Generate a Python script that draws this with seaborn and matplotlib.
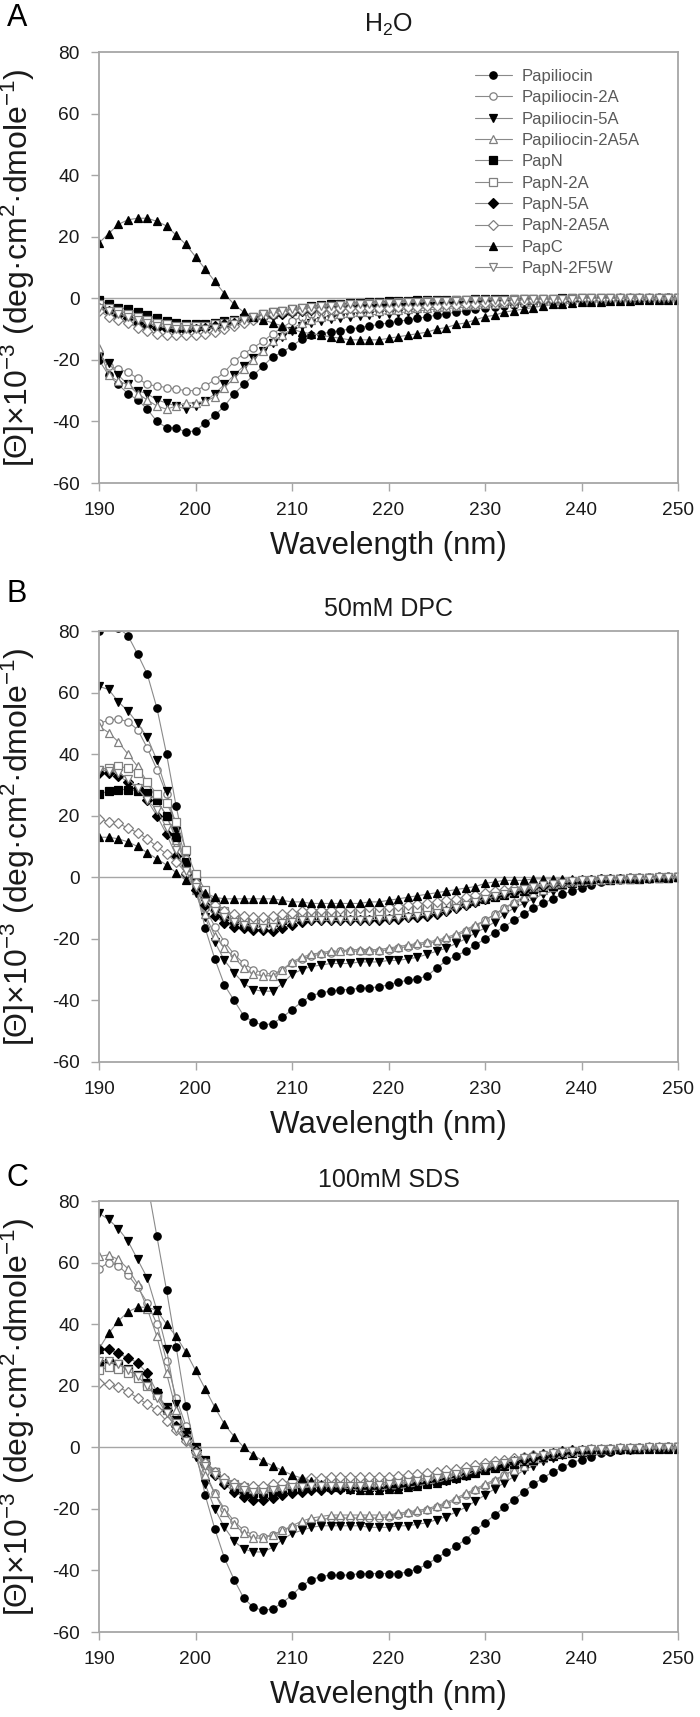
import numpy as np
import pandas as pd
import matplotlib
matplotlib.use("Agg")
import matplotlib.pyplot as plt
import seaborn as sns

# wavelength grid (nm), one reading per nm
wl = np.arange(190, 251)

names = ['Papiliocin', 'Papiliocin-2A', 'Papiliocin-5A', 'Papiliocin-2A5A', 'PapN',
         'PapN-2A', 'PapN-5A', 'PapN-2A5A', 'PapC', 'PapN-2F5W']
panel_titles = ['H$_2$O', '50mM DPC', '100mM SDS']
panel_letters = ['A', 'B', 'C']
x_ticks = [190, 200, 210, 220, 230, 240, 250]
y_ticks = [-60, -40, -20, 0, 20, 40, 60, 80]

# ---- panel A : water ----
a_pap = [-20, -25, -28, -31, -33, -36, -40, -42, -42, -43.5,
         -43, -40.5, -38, -35, -31, -28, -25, -22, -19, -17.5,
         -15.5, -13.3, -12, -11.5, -11, -10.5, -10, -9.5, -9, -8.5,
         -8, -7.5, -7, -6.5, -6, -5.5, -5, -4.5, -4, -3.5,
         -3, -2.7, -2.4, -2.1, -1.8, -1.5, -1.3, -1.1, -0.9, -0.7,
         -0.6, -0.5, -0.4, -0.3, -0.3, -0.2, -0.2, -0.1, -0.1, 0, 0]
a_pap2a = [-18, -22, -23, -24, -26, -28, -28.5, -29, -29.5, -30,
           -30, -28.5, -26.5, -24, -20.5, -18, -16, -14, -11.5, -9.5,
           -7.5, -6, -5, -4.5, -4, -3.5, -3.3, -3.1, -3, -2.8,
           -2.6, -2.4, -2.2, -2, -1.9, -1.8, -1.7, -1.6, -1.5, -1.4,
           -1.3, -1.2, -1.1, -1, -0.9, -0.8, -0.7, -0.6, -0.5, -0.4,
           -0.3, -0.3, -0.2, -0.2, -0.1, -0.1, 0, 0, 0, 0, 0]
a_pap5a = [-19, -21, -25, -28, -30, -31, -33, -34, -35, -36,
           -35, -33.5, -31, -28, -25, -22, -19.5, -17, -14.5, -12.5,
           -10.5, -9, -8, -7.3, -6.8, -6.4, -6, -5.7, -5.4, -5.2,
           -5, -4.7, -4.4, -4.1, -3.8, -3.5, -3.3, -3.1, -2.9, -2.7,
           -2.5, -2.3, -2.1, -1.9, -1.7, -1.5, -1.3, -1.1, -0.9, -0.8,
           -0.7, -0.6, -0.5, -0.4, -0.3, -0.2, -0.2, -0.1, -0.1, 0, 0]
a_pap2a5a = [-16, -25, -27, -28, -31, -33, -35, -36, -35, -34,
             -34, -33.5, -32, -29, -26, -23, -20, -17, -14, -12,
             -10, -8, -7, -6.2, -5.6, -5.1, -4.8, -4.5, -4.3, -4.1,
             -3.9, -3.7, -3.5, -3.3, -3.1, -2.9, -2.7, -2.5, -2.3, -2.1,
             -1.9, -1.7, -1.5, -1.4, -1.3, -1.1, -1, -0.9, -0.8, -0.7,
             -0.6, -0.5, -0.4, -0.3, -0.2, -0.2, -0.1, -0.1, 0, 0, 0]
a_papn = [-0.5, -2, -3, -3.5, -4.5, -5.5, -6.5, -7.5, -8, -8.5,
          -8.5, -8.5, -8, -7.5, -7, -6.5, -6, -5, -4.5, -4,
          -3.5, -3, -2.6, -2.3, -2, -1.8, -1.6, -1.4, -1.2, -1.1,
          -1, -0.9, -0.8, -0.7, -0.6, -0.5, -0.5, -0.4, -0.4, -0.3,
          -0.3, -0.3, -0.2, -0.2, -0.2, -0.1, -0.1, -0.1, 0, 0,
          0, 0, 0, 0, 0, 0, 0, 0, 0, 0, 0]
a_papn2a = [-2, -3, -4, -5, -6, -7, -8, -8.5, -9, -9,
            -9, -9, -8.5, -8, -7.5, -7, -6.5, -5.5, -5, -4.5,
            -4, -3.5, -3, -2.7, -2.4, -2.2, -2, -1.8, -1.6, -1.5,
            -1.4, -1.3, -1.2, -1.1, -1, -0.9, -0.8, -0.7, -0.6, -0.5,
            -0.5, -0.4, -0.4, -0.3, -0.3, -0.2, -0.2, -0.1, -0.1, 0,
            0, 0, 0, 0, 0, 0, 0, 0, 0, 0, 0]
a_papn5a = [-3, -4, -5.5, -6.5, -8, -9, -9.5, -10, -10.5, -10.5,
            -10, -9.5, -9, -8.5, -8, -7.5, -6.5, -6, -5.5, -5,
            -4.5, -4.2, -3.9, -3.6, -3.3, -3, -2.8, -2.6, -2.4, -2.2,
            -2, -1.9, -1.8, -1.7, -1.6, -1.5, -1.4, -1.3, -1.2, -1.1,
            -1, -0.9, -0.8, -0.8, -0.7, -0.6, -0.6, -0.5, -0.5, -0.4,
            -0.4, -0.3, -0.3, -0.2, -0.2, -0.2, -0.1, -0.1, 0, 0, 0]
a_papn2a5a = [-4, -6, -7, -8, -9.5, -10.5, -11.5, -12, -12, -12,
              -12, -11.5, -11, -10, -9, -8, -7, -6, -5, -4.5,
              -4, -3.8, -3.6, -3.5, -3.4, -3.3, -3.2, -3.1, -3, -3,
              -3, -2.9, -2.8, -2.7, -2.6, -2.5, -2.3, -2.1, -1.9, -1.7,
              -1.5, -1.3, -1.1, -0.9, -0.8, -0.7, -0.6, -0.5, -0.4, -0.3,
              -0.2, -0.2, -0.1, -0.1, 0, 0, 0, 0, 0, 0, 0]
a_papc = [18, 21, 24, 25.5, 26, 26, 25, 23.5, 20.5, 17.5,
          13.5, 9.5, 5.5, 1.5, -2, -4.5, -6, -7, -8, -9,
          -10, -11, -11.5, -12, -12.5, -13, -13.5, -13.5, -13.5, -13.5,
          -13, -12.5, -12, -11.5, -11, -10, -9.5, -8.5, -8, -7,
          -6, -5.5, -4.5, -4, -3.5, -3, -2.5, -2, -1.8, -1.5,
          -1.3, -1.2, -1.1, -1, -0.9, -0.8, -0.7, -0.6, -0.6, -0.5, -0.5]
a_papn2f5w = [-3, -4, -5, -6, -7, -8, -9, -9.5, -10, -10,
              -10, -10, -9.5, -9, -8.5, -7, -6, -5, -4.5, -4,
              -3.5, -3.2, -2.9, -2.6, -2.4, -2.2, -2, -1.8, -1.7, -1.6,
              -1.5, -1.4, -1.3, -1.2, -1.1, -1, -0.9, -0.8, -0.7, -0.6,
              -0.5, -0.5, -0.4, -0.4, -0.3, -0.3, -0.2, -0.2, -0.1, -0.1,
              0, 0, 0, 0, 0, 0, 0, 0, 0, 0, 0]

# ---- panel B : 50 mM DPC ----
b_pap = [80, 82, 81, 78.5, 72.5, 66, 55, 40, 23, 8,
         -3, -16.5, -26.5, -35, -40, -45, -47, -48, -47.5, -45.5,
         -43, -40.5, -38.5, -37.5, -37, -36.5, -36.5, -36, -36, -35.5,
         -35, -34, -33.5, -33, -32, -29.5, -27, -25.5, -24, -22,
         -20, -18, -16, -14, -12, -10, -8.5, -7, -5.5, -4.5,
         -3.5, -2.5, -1.5, -1, -0.5, -0.5, -0.5, -0.3, -0.2, -0.1, 0]
b_pap2a = [50, 51, 51.5, 50.5, 48, 42, 35, 27, 17, 6,
           -3, -10, -16, -21, -25, -28, -30, -31, -31.5, -30,
           -28, -26.5, -25.5, -25, -24.5, -24, -24, -24, -24, -24,
           -23.5, -23, -22.5, -22, -21.5, -21, -20, -19, -17.5, -16,
           -14, -12, -10, -8.5, -7, -5.5, -4.5, -3.5, -2.5, -2,
           -1.5, -1.2, -1, -0.8, -0.6, -0.5, -0.4, -0.3, -0.2, -0.1, 0]
b_pap5a = [62, 61, 57, 54, 50, 45.5, 38, 28, 15, 4,
           -5, -13, -21, -27, -31, -34.5, -36.5, -37, -37, -34.5,
           -31.5, -30, -29, -28.5, -28, -28, -28, -27.5, -27.5, -27.5,
           -27, -27, -26.5, -26, -25, -24, -23, -21.5, -20, -18,
           -16.5, -14.5, -12, -10, -8.5, -7, -5.5, -4.5, -3.5, -2.5,
           -2, -1.5, -1, -0.8, -0.6, -0.5, -0.4, -0.3, -0.2, -0.1, 0]
b_pap2a5a = [49, 47, 44, 40, 36, 31, 25, 20, 12, 4,
             -4, -12, -19, -23, -26, -29.5, -31.5, -32, -32, -30,
             -27.5, -26, -25, -24.5, -24, -24, -23.5, -23.5, -23.5, -23.5,
             -23, -22.5, -22, -21.5, -21, -20.5, -19.5, -18.5, -17, -15.5,
             -14, -12, -10, -8, -6.5, -5, -4, -3, -2.5, -2,
             -1.5, -1.2, -1, -0.8, -0.6, -0.5, -0.4, -0.3, -0.2, -0.1, 0]
b_papn = [27, 28, 28.5, 28.5, 28, 27.5, 25, 20, 13, 5,
          -1, -6, -10, -12.5, -14, -14.5, -15, -15, -14.5, -14,
          -13, -12.5, -12, -12, -12, -12, -12, -12, -12, -11.8,
          -11.5, -11.3, -11, -10.7, -10.4, -10, -9.5, -9, -8.5, -7.8,
          -7, -6.3, -5.6, -5, -4.4, -3.8, -3.2, -2.7, -2.2, -1.8,
          -1.5, -1.2, -1, -0.8, -0.6, -0.5, -0.4, -0.3, -0.2, -0.1, 0]
b_papn2a = [35, 35.5, 36, 35.5, 34, 31, 27, 24, 18, 9,
            1, -4, -8, -11, -13, -13.5, -14, -14, -13.5, -13,
            -12.5, -12, -11.5, -11.5, -11.5, -11.5, -11.5, -11.5, -11.5, -11.3,
            -11, -10.8, -10.5, -10.2, -10, -9.5, -9, -8.5, -8, -7.3,
            -6.5, -5.8, -5.1, -4.5, -3.9, -3.3, -2.8, -2.3, -1.9, -1.5,
            -1.2, -1, -0.8, -0.6, -0.5, -0.4, -0.3, -0.2, -0.1, 0, 0]
b_papn5a = [34, 34, 33, 31, 29, 25, 20, 14, 7, 1,
            -4, -9, -12.5, -15, -16, -16.5, -17, -17, -17.5, -16.5,
            -15.5, -14.5, -14, -14, -14, -14, -14, -14, -14, -14,
            -13.5, -13.5, -13, -13, -12.5, -12, -11, -10, -9, -8,
            -7, -6.2, -5.4, -4.7, -4, -3.3, -2.7, -2.2, -1.8, -1.4,
            -1.1, -0.9, -0.7, -0.5, -0.4, -0.3, -0.2, -0.1, 0, 0, 0]
b_papn2a5a = [19, 18, 17.5, 16, 14.5, 12.5, 10, 7.5, 5, 1.5,
              -2, -6, -9, -11, -12, -12.5, -13, -13, -12.5, -12,
              -11.5, -11, -10.5, -10.5, -10.5, -10.3, -10.1, -10, -9.8, -9.6,
              -9.5, -9.2, -9, -8.7, -8.4, -8, -7.5, -7, -6.4, -5.7,
              -5, -4.5, -4, -3.5, -3.1, -2.7, -2.3, -1.9, -1.6, -1.3,
              -1, -0.8, -0.6, -0.5, -0.4, -0.3, -0.2, -0.1, 0, 0, 0]
b_papc = [13, 13, 12.5, 11.5, 10, 8, 6, 4, 1.5, -1,
          -3, -5, -6.5, -7, -7, -7, -7, -7, -7, -7.5,
          -8, -8, -8.5, -8.5, -8.5, -8.5, -8.5, -8.5, -8, -8,
          -7.5, -7, -6.5, -6, -5.5, -5, -4.5, -4, -3.5, -3,
          -2, -1.5, -1, -1, -1, -0.5, -0.5, -0.5, -0.5, -0.5,
          -0.5, -0.5, -0.3, -0.3, -0.2, -0.2, -0.1, -0.1, 0, 0, 0]
b_papn2f5w = [35, 34.5, 34, 32, 29, 25, 22, 16, 9, 2,
              -3, -8, -11, -13, -14.5, -15.5, -16, -16.5, -16, -15,
              -14.5, -14, -14, -14, -14, -14, -14, -14, -13.8, -13.6,
              -13.5, -13.2, -13, -12.6, -12.2, -11.5, -10.8, -10, -9, -8,
              -7, -6.2, -5.4, -4.6, -3.9, -3.2, -2.6, -2.1, -1.7, -1.3,
              -1, -0.8, -0.6, -0.5, -0.4, -0.3, -0.2, -0.1, 0, 0, 0]

# ---- panel C : 100 mM SDS ----
c_pap = [np.nan, np.nan, np.nan, np.nan, np.nan, 86, 68.5, 51, 32.5, 13.5,
         -1, -15.5, -26.5, -36, -43, -49, -52, -53, -52.5, -50.5,
         -48, -45, -43, -42, -41.5, -41.5, -41.5, -41, -41, -41,
         -41, -41, -40.5, -39.5, -38, -36, -34, -32, -30, -27,
         -24.5, -22, -19.5, -17, -14.5, -12, -10, -8, -6.5, -5,
         -4, -3, -2, -1.5, -1, -0.5, -0.3, -0.2, -0.1, 0, 0]
c_pap2a = [58, 60, 59, 56, 52, 47, 40, 28, 16, 7,
           0, -8, -15, -20, -24, -27, -28.5, -29, -28.5, -27,
           -26, -25, -24, -23.5, -23, -23, -23, -23, -23, -23,
           -22.5, -22, -21.5, -21, -20.5, -19.5, -18.5, -17, -15.5, -14,
           -12.5, -11, -9, -7.5, -6, -4.5, -3.5, -2.5, -2, -1.5,
           -1.2, -1, -0.8, -0.6, -0.5, -0.4, -0.3, -0.2, -0.1, 0, 0]
c_pap5a = [76, 74, 71, 67, 61, 55, 44.5, 32, 14, 5,
           -3, -12, -20, -26, -30.5, -33, -34, -34, -32.5, -30,
           -28, -27, -26, -25.5, -25.5, -25.5, -25.5, -25.5, -26, -26,
           -26, -25.5, -25.5, -25, -24.5, -23.5, -22.5, -21, -19.5, -17.5,
           -15.5, -13.5, -11.5, -9.5, -7.5, -6, -4.5, -3.5, -2.5, -2,
           -1.5, -1.2, -1, -0.8, -0.6, -0.5, -0.4, -0.3, -0.2, -0.1, 0]
c_pap2a5a = [62, 62.5, 61, 58, 53, 45, 36, 24, 12, 4,
             -2, -9, -15, -21, -25, -28, -29.5, -29.5, -28.5, -27,
             -25.5, -24, -23, -22.5, -22, -22, -22, -22, -22, -22,
             -22, -21.5, -21, -20.5, -20, -19, -18, -16.5, -15, -13.5,
             -12, -10.5, -9, -7.5, -6, -4.5, -3.5, -2.5, -2, -1.5,
             -1.2, -1, -0.8, -0.6, -0.5, -0.4, -0.3, -0.2, -0.1, 0, 0]
c_papn = [27, 27.5, 27, 25.5, 23.5, 21, 17.5, 13, 9, 4,
          0, -4, -8, -11, -13, -14.5, -15, -15, -14.5, -14,
          -13.5, -13, -13, -13, -13, -13, -13, -13, -13, -13,
          -12.8, -12.5, -12.2, -12, -11.5, -11, -10.3, -9.6, -8.9, -8.2,
          -7.5, -6.8, -6, -5.3, -4.6, -4, -3.3, -2.7, -2.2, -1.8,
          -1.5, -1.2, -1, -0.8, -0.6, -0.5, -0.4, -0.3, -0.2, -0.1, 0]
c_papn2a = [25, 26, 25.5, 24, 22.5, 20, 17, 12, 8, 3,
            -1, -5, -8, -10.5, -12, -13, -13.5, -13.5, -13, -12.5,
            -12, -11.5, -11.5, -11.5, -11.5, -11.5, -11.5, -11.5, -11.5, -11.5,
            -11.3, -11, -10.7, -10.4, -10, -9.5, -9, -8.4, -7.8, -7.2,
            -6.6, -6, -5.3, -4.6, -4, -3.4, -2.8, -2.3, -1.9, -1.5,
            -1.2, -1, -0.8, -0.6, -0.5, -0.4, -0.3, -0.2, -0.1, 0, 0]
c_papn5a = [32, 32, 30.5, 29, 27.5, 24, 18, 12, 7, 3,
            -1, -5, -9, -12, -14.5, -16, -17, -17, -16.5, -15.5,
            -15, -14.5, -14, -14, -13.5, -13.5, -13.5, -13.5, -13.5, -13.5,
            -13, -12.5, -12.5, -12, -11.5, -11, -10.5, -10, -9, -8,
            -7, -6.3, -5.6, -4.9, -4.2, -3.6, -3, -2.5, -2, -1.6,
            -1.3, -1, -0.8, -0.6, -0.5, -0.4, -0.3, -0.2, -0.1, 0, 0]
c_papn2a5a = [21, 20.5, 19.5, 18, 16, 14, 12, 8.5, 5.5, 2,
              -1.5, -5, -8, -10, -11.5, -12.5, -12.5, -12.5, -12, -11.5,
              -11, -10.5, -10, -10, -9.5, -9.5, -9.5, -9.5, -9.5, -9.5,
              -9.5, -9.2, -9, -8.7, -8.4, -8, -7.5, -7, -6.5, -5.8,
              -5, -4.5, -4, -3.5, -3, -2.5, -2.1, -1.7, -1.3, -1,
              -0.8, -0.6, -0.5, -0.4, -0.3, -0.2, -0.1, 0, 0, 0, 0]
c_papc = [32, 37, 41, 44, 45.5, 45.5, 44.5, 40, 36, 31,
          25, 19, 13, 7.5, 3.5, 0, -2.5, -4.5, -6, -7.5,
          -9, -10, -11, -12, -12.5, -13, -13.5, -14, -14, -14,
          -13.5, -13.5, -13, -12.5, -12, -11.5, -10.5, -10, -9, -8,
          -7, -6, -5, -4, -3, -2.5, -2, -1.5, -1, -0.5,
          -0.5, -0.5, -0.5, -0.5, -0.5, -0.5, -0.5, -0.5, -0.5, -0.5, -0.5]
c_papn2f5w = [28, 28, 27, 25, 23, 20, 16, 11, 6, 2,
              -2, -6, -9, -11.5, -13, -14, -14.5, -14.5, -14, -13.5,
              -13, -12.8, -12.6, -12.5, -12.5, -12.5, -12.5, -12.5, -12.3, -12.1,
              -12, -11.7, -11.4, -11, -10.5, -10, -9.4, -8.7, -8, -7.3,
              -6.5, -5.8, -5, -4.3, -3.6, -3, -2.4, -1.9, -1.5, -1.2,
              -0.9, -0.7, -0.5, -0.4, -0.3, -0.2, -0.1, 0, 0, 0, 0]

panels = [
    [a_pap, a_pap2a, a_pap5a, a_pap2a5a, a_papn, a_papn2a, a_papn5a, a_papn2a5a, a_papc, a_papn2f5w],
    [b_pap, b_pap2a, b_pap5a, b_pap2a5a, b_papn, b_papn2a, b_papn5a, b_papn2a5a, b_papc, b_papn2f5w],
    [c_pap, c_pap2a, c_pap5a, c_pap2a5a, c_papn, c_papn2a, c_papn5a, c_papn2a5a, c_papc, c_papn2f5w],
]

# marker shape and fill for each peptide (filled = black, open = white with grey edge)
markers = ['o', 'o', 'v', '^', 's', 's', 'D', 'D', '^', 'v']
filled = [True, False, True, False, True, False, True, False, True, False]

sns.set_style("white")
plt.rcParams['font.family'] = ['Liberation Sans', 'DejaVu Sans']
plt.rcParams['mathtext.fontset'] = 'custom'
plt.rcParams['mathtext.rm'] = 'Liberation Sans'
plt.rcParams['mathtext.it'] = 'Liberation Sans'
plt.rcParams['mathtext.default'] = 'regular'
plt.rcParams['axes.unicode_minus'] = False

W, H = 700, 1717
fig = plt.figure(figsize=(W / 100, H / 100), dpi=100)

ax_left, ax_right = 99, 678
ax_tops = [52, 631, 1201]
ax_h = 431
title_y = [25, 609, 1180]
letter_y = [18, 594, 1178]

frame_col = '#a6a6a6'
line_col = '#8a8a8a'
open_col = '#7f7f7f'
text_col = '#1a1a1a'

for p in range(3):
    top = ax_tops[p]
    ax = fig.add_axes([ax_left / W, 1 - (top + ax_h) / H, (ax_right - ax_left) / W, ax_h / H])
    ax.axhline(0, color=frame_col, lw=1.0, zorder=0)
    for i, name in enumerate(names):
        vals = panels[p][i]
        fc = 'black' if filled[i] else 'white'
        ec = 'black' if filled[i] else open_col
        ms = 5.3 if markers[i] != 'D' else 4.6
        sns.lineplot(x=wl, y=vals, ax=ax, color=line_col, lw=0.8,
                     marker=markers[i], markersize=ms, markerfacecolor=fc,
                     markeredgecolor=ec, markeredgewidth=0.9,
                     label=name if p == 0 else None)

    ax.set_xlim(190, 250)
    ax.set_ylim(-60, 80)
    ax.set_xticks(x_ticks)
    ax.set_yticks(y_ticks)
    ax.tick_params(axis='both', bottom=True, left=True, direction='out', length=6, width=1,
                   color=frame_col, labelsize=13.8, labelcolor=text_col, pad=8)
    for sp in ax.spines.values():
        sp.set_color(frame_col)
        sp.set_linewidth(1.3)

    ax.set_xlabel('Wavelength (nm)', fontsize=22.5, color=text_col)
    ax.xaxis.set_label_coords(0.5, -0.112)
    ax.set_ylabel('[Θ]×10$^{-3}$ (deg·cm$^{2}$·dmole$^{-1}$)', fontsize=23, color=text_col)
    ax.yaxis.set_label_coords(-0.107, 0.5)

    fig.text((ax_left + ax_right) / 2 / W, 1 - title_y[p] / H, panel_titles[p],
             fontsize=18, color=text_col, ha='center', va='center')
    fig.text(17 / W, 1 - letter_y[p] / H, panel_letters[p],
             fontsize=22, color='black', ha='center', va='center')

    if p == 0:
        ax.legend(loc='upper left', bbox_to_anchor=((475 - ax_left) / (ax_right - ax_left), 1 - 17 / ax_h),
                  frameon=False, fontsize=12, labelcolor='#595959', borderpad=0, borderaxespad=0,
                  handlelength=2.2, handletextpad=0.6, labelspacing=0.38)
    elif ax.get_legend() is not None:
        ax.get_legend().remove()

fig.savefig('out.png', dpi=100)
